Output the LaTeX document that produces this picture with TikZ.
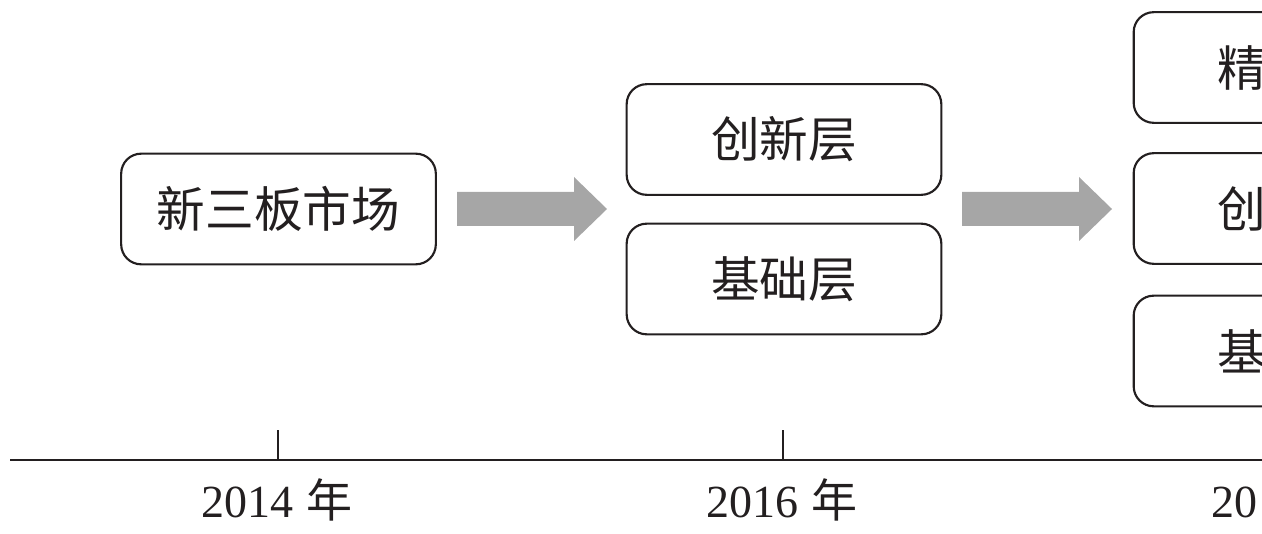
\documentclass[tikz,border=0pt]{standalone}
\usepackage{fontspec}
\setmainfont{Liberation Serif}
\newfontfamily\cjk{Noto Sans CJK SC}
\definecolor{ink}{HTML}{231F20}
\definecolor{arrowgray}{HTML}{A6A6A6}
\begin{document}
\begin{tikzpicture}[x=0.75pt,y=-0.75pt,
  boxfont/.style={text=ink, font=\cjk\fontsize{36.5}{40}\selectfont},
  stagebox/.style={draw=ink, line width=1.6pt, rounded corners=15pt, minimum width=236pt, minimum height=83pt, inner sep=0pt, boxfont},
  parttext/.style={anchor=west, inner sep=0pt, boxfont},
  yearlabel/.style={anchor=base, text=ink, inner sep=0pt, font=\fontsize{34.5}{38}\selectfont},
  blockarrow/.style={fill=arrowgray, draw=none},
  axisline/.style={draw=ink, line width=1.6pt}]
\useasboundingbox (0,0) rectangle (1262,534);
\clip (0,0) rectangle (1262,534);
% boxes
\node[stagebox] (xsb) at (278.5,209) {新三板市场};
\node[stagebox] (cx1) at (784,139.5) {创新层};
\node[stagebox] (jc1) at (784,279) {基础层};
\node[stagebox] (jx2) at (1291,67.5) {};
\node[stagebox] (cx2) at (1291,208.5) {};
\node[stagebox] (jc2) at (1291,351) {};
\node[parttext] (jx2t) at (1217,67.5) {精};
\node[parttext] (cx2t) at (1217,208.5) {创};
\node[parttext] (jc2t) at (1217,351) {基};
% block arrows
\fill[blockarrow] (457,192) -- (574,192) -- (574,177) -- (607,209) -- (574,241) -- (574,226) -- (457,226) -- cycle;
\fill[blockarrow] (962,192) -- (1079,192) -- (1079,177) -- (1112,209) -- (1079,241) -- (1079,226) -- (962,226) -- cycle;
% axis
\coordinate (axl) at (10,460);
\coordinate (axr) at (1300,460);
\draw[axisline] (axl) -- (axr);
\coordinate (t1) at (278,460);
\coordinate (t2) at (783,460);
\coordinate (t1u) at (278,430);
\coordinate (t2u) at (783,430);
\draw[axisline] (t1) -- (t1u);
\draw[axisline] (t2) -- (t2u);
% year labels
\node[yearlabel] (y1) at (277,517) {2014\hspace{0.3em}{\cjk 年}};
\node[yearlabel] (y2) at (782,517) {2016\hspace{0.3em}{\cjk 年}};
\node[yearlabel, anchor=base west] (y3) at (1211,517) {20};
\end{tikzpicture}
\end{document}
